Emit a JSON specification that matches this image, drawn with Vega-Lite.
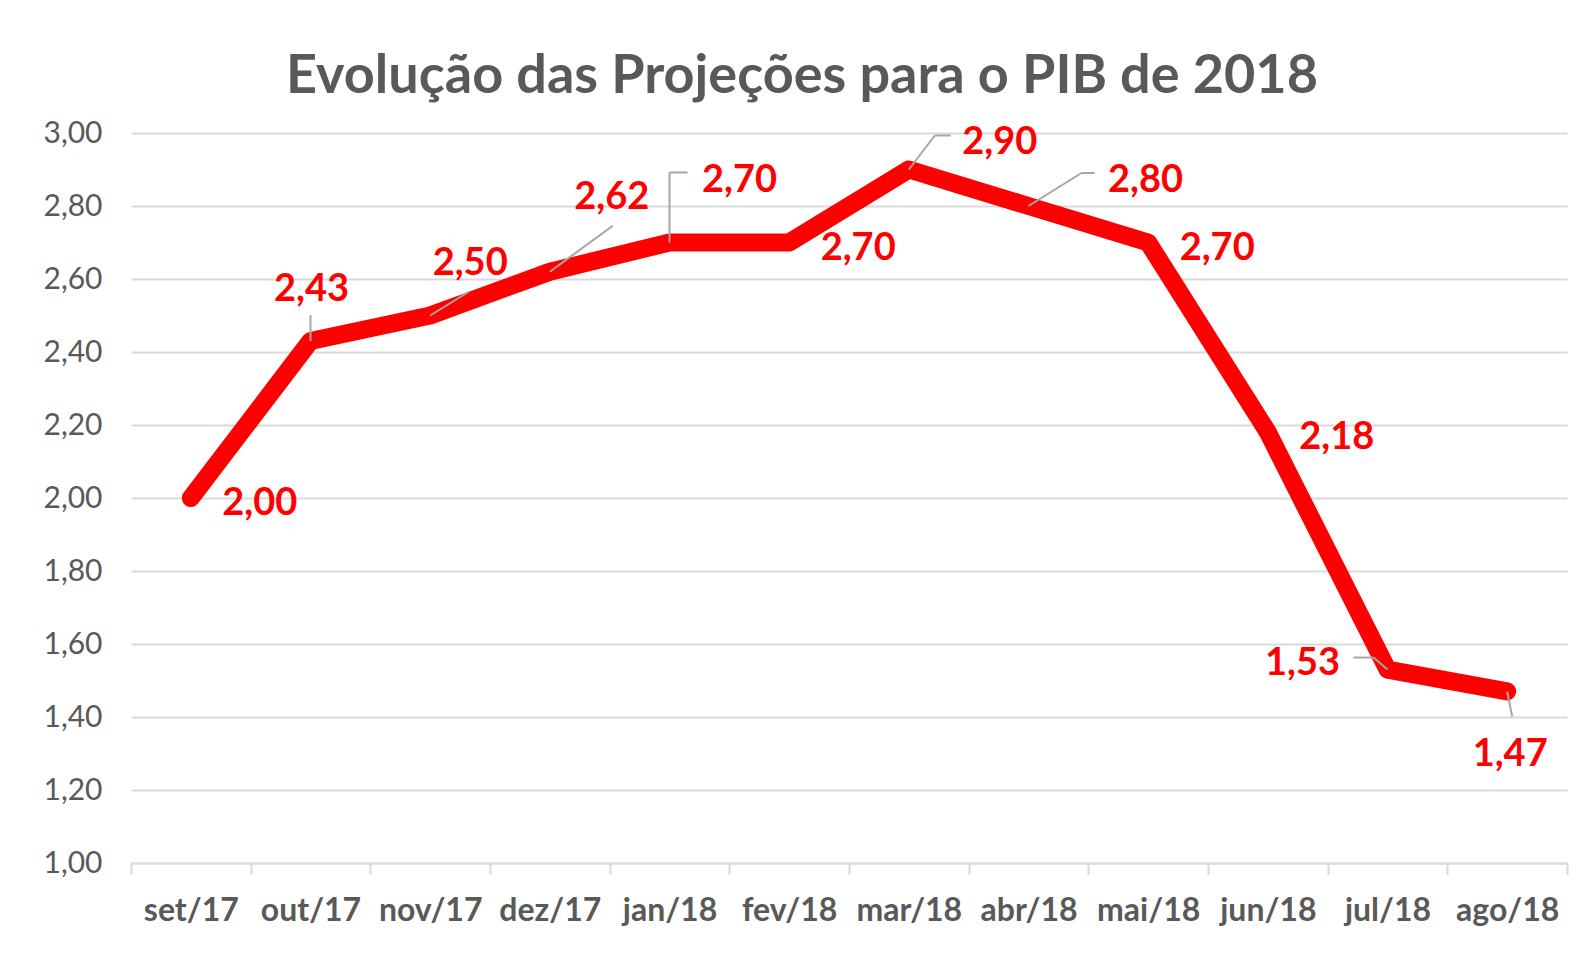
{
  "$schema": "https://vega.github.io/schema/vega-lite/v6.json",
  "width": 1436,
  "height": 730,
  "autosize": {"type": "none"},
  "padding": {"left": 131, "top": 133, "right": 9, "bottom": 91},
  "background": "white",
  "config": {"font": "Lato", "view": {"stroke": null}},
  "title": {
    "text": "Evolução das Projeções para o PIB de 2018",
    "font": "Lato",
    "fontSize": 54,
    "fontWeight": "bold",
    "color": "#595959",
    "anchor": "middle",
    "dx": -47,
    "dy": 69,
    "offset": 40,
    "baseline": "alphabetic"
  },
  "data": {
    "values": [
      {"mes": "set/17", "pib": 2.00, "rotulo": "2,00"},
      {"mes": "out/17", "pib": 2.43, "rotulo": "2,43"},
      {"mes": "nov/17", "pib": 2.50, "rotulo": "2,50"},
      {"mes": "dez/17", "pib": 2.62, "rotulo": "2,62"},
      {"mes": "jan/18", "pib": 2.70, "rotulo": "2,70"},
      {"mes": "fev/18", "pib": 2.70, "rotulo": "2,70"},
      {"mes": "mar/18", "pib": 2.90, "rotulo": "2,90"},
      {"mes": "abr/18", "pib": 2.80, "rotulo": "2,80"},
      {"mes": "mai/18", "pib": 2.70, "rotulo": "2,70"},
      {"mes": "jun/18", "pib": 2.18, "rotulo": "2,18"},
      {"mes": "jul/18", "pib": 1.53, "rotulo": "1,53"},
      {"mes": "ago/18", "pib": 1.47, "rotulo": "1,47"}
    ]
  },
  "encoding": {
    "x": {
      "field": "mes", "type": "nominal", "sort": null, "title": null,
      "scale": {"type": "band", "paddingInner": 0, "paddingOuter": 0},
      "axis": {
        "labelAngle": 0, "labelFont": "Lato", "labelFontSize": 32, "labelFontWeight": "bold",
        "labelColor": "#595959", "labelPadding": 21, "tickBand": "extent",
        "tickColor": "#d9d9d9", "tickWidth": 2, "tickSize": 11,
        "domainColor": "#d9d9d9", "domainWidth": 2, "grid": false
      }
    },
    "y": {
      "field": "pib", "type": "quantitative", "title": null,
      "scale": {"domain": [1, 3], "nice": false, "zero": false},
      "axis": {
        "values": [1, 1.2, 1.4, 1.6, 1.8, 2, 2.2, 2.4, 2.6, 2.8, 3],
        "labelExpr": "replace(format(datum.value, '.2f'), '.', ',')",
        "labelFont": "Lato", "labelFontSize": 30, "labelColor": "#595959",
        "labelPadding": 29, "ticks": false, "domain": false,
        "grid": true, "gridColor": "#d9d9d9", "gridWidth": 2
      }
    }
  },
  "layer": [
    {"mark": {"type": "line", "color": "#ff0000", "strokeWidth": 18, "strokeCap": "round", "strokeJoin": "round"}},
    {"transform": [{"filter": "datum.mes == 'out/17'"}],
     "mark": {"type": "rule", "color": "#a6a6a6", "strokeWidth": 2, "y2Offset": -26},
     "encoding": {"x2": {"field": "mes", "bandPosition": 0.5}, "y2": {"field": "pib"}}},
    {"transform": [{"filter": "datum.mes == 'nov/17'"}],
     "mark": {"type": "rule", "color": "#a6a6a6", "strokeWidth": 2, "x2Offset": 39, "y2Offset": -24},
     "encoding": {"x2": {"field": "mes", "bandPosition": 0.5}, "y2": {"field": "pib"}}},
    {"transform": [{"filter": "datum.mes == 'dez/17'"}],
     "mark": {"type": "rule", "color": "#a6a6a6", "strokeWidth": 2, "x2Offset": 63, "y2Offset": -46},
     "encoding": {"x2": {"field": "mes", "bandPosition": 0.5}, "y2": {"field": "pib"}}},
    {"transform": [{"filter": "datum.mes == 'jan/18'"}],
     "mark": {"type": "rule", "color": "#a6a6a6", "strokeWidth": 2, "y2Offset": -70},
     "encoding": {"x2": {"field": "mes", "bandPosition": 0.5}, "y2": {"field": "pib"}}},
    {"transform": [{"filter": "datum.mes == 'jan/18'"}],
     "mark": {"type": "rule", "color": "#a6a6a6", "strokeWidth": 2, "yOffset": -70, "x2Offset": 18, "y2Offset": -70},
     "encoding": {"x2": {"field": "mes", "bandPosition": 0.5}, "y2": {"field": "pib"}}},
    {"transform": [{"filter": "datum.mes == 'mar/18'"}],
     "mark": {"type": "rule", "color": "#a6a6a6", "strokeWidth": 2, "x2Offset": 26, "y2Offset": -34},
     "encoding": {"x2": {"field": "mes", "bandPosition": 0.5}, "y2": {"field": "pib"}}},
    {"transform": [{"filter": "datum.mes == 'mar/18'"}],
     "mark": {"type": "rule", "color": "#a6a6a6", "strokeWidth": 2, "xOffset": 26, "yOffset": -34, "x2Offset": 42, "y2Offset": -34},
     "encoding": {"x2": {"field": "mes", "bandPosition": 0.5}, "y2": {"field": "pib"}}},
    {"transform": [{"filter": "datum.mes == 'abr/18'"}],
     "mark": {"type": "rule", "color": "#a6a6a6", "strokeWidth": 2, "x2Offset": 53, "y2Offset": -33},
     "encoding": {"x2": {"field": "mes", "bandPosition": 0.5}, "y2": {"field": "pib"}}},
    {"transform": [{"filter": "datum.mes == 'abr/18'"}],
     "mark": {"type": "rule", "color": "#a6a6a6", "strokeWidth": 2, "xOffset": 53, "yOffset": -33, "x2Offset": 66, "y2Offset": -33},
     "encoding": {"x2": {"field": "mes", "bandPosition": 0.5}, "y2": {"field": "pib"}}},
    {"transform": [{"filter": "datum.mes == 'jul/18'"}],
     "mark": {"type": "rule", "color": "#a6a6a6", "strokeWidth": 2, "x2Offset": -14, "y2Offset": -12},
     "encoding": {"x2": {"field": "mes", "bandPosition": 0.5}, "y2": {"field": "pib"}}},
    {"transform": [{"filter": "datum.mes == 'jul/18'"}],
     "mark": {"type": "rule", "color": "#a6a6a6", "strokeWidth": 2, "xOffset": -14, "yOffset": -12, "x2Offset": -34, "y2Offset": -12},
     "encoding": {"x2": {"field": "mes", "bandPosition": 0.5}, "y2": {"field": "pib"}}},
    {"transform": [{"filter": "datum.mes == 'ago/18'"}],
     "mark": {"type": "rule", "color": "#a6a6a6", "strokeWidth": 2, "x2Offset": 5, "y2Offset": 25},
     "encoding": {"x2": {"field": "mes", "bandPosition": 0.5}, "y2": {"field": "pib"}}},
    {"transform": [{"filter": "indexof(['set/17','fev/18','mai/18','jun/18'], datum.mes) >= 0"}],
     "mark": {"type": "text", "font": "Lato", "fontSize": 38, "fontWeight": "bold", "color": "#ff0000", "dx": 69, "dy": 6},
     "encoding": {"text": {"field": "rotulo"}}},
    {"transform": [{"filter": "datum.mes == 'out/17'"}],
     "mark": {"type": "text", "font": "Lato", "fontSize": 38, "fontWeight": "bold", "color": "#ff0000", "dx": 1, "dy": -51},
     "encoding": {"text": {"field": "rotulo"}}},
    {"transform": [{"filter": "datum.mes == 'nov/17'"}],
     "mark": {"type": "text", "font": "Lato", "fontSize": 38, "fontWeight": "bold", "color": "#ff0000", "dx": 40, "dy": -52},
     "encoding": {"text": {"field": "rotulo"}}},
    {"transform": [{"filter": "datum.mes == 'dez/17'"}],
     "mark": {"type": "text", "font": "Lato", "fontSize": 38, "fontWeight": "bold", "color": "#ff0000", "dx": 62, "dy": -74},
     "encoding": {"text": {"field": "rotulo"}}},
    {"transform": [{"filter": "datum.mes == 'jan/18'"}],
     "mark": {"type": "text", "font": "Lato", "fontSize": 38, "fontWeight": "bold", "color": "#ff0000", "dx": 70, "dy": -62},
     "encoding": {"text": {"field": "rotulo"}}},
    {"transform": [{"filter": "datum.mes == 'mar/18'"}],
     "mark": {"type": "text", "font": "Lato", "fontSize": 38, "fontWeight": "bold", "color": "#ff0000", "dx": 91, "dy": -27},
     "encoding": {"text": {"field": "rotulo"}}},
    {"transform": [{"filter": "datum.mes == 'abr/18'"}],
     "mark": {"type": "text", "font": "Lato", "fontSize": 38, "fontWeight": "bold", "color": "#ff0000", "dx": 117, "dy": -25},
     "encoding": {"text": {"field": "rotulo"}}},
    {"transform": [{"filter": "datum.mes == 'jul/18'"}],
     "mark": {"type": "text", "font": "Lato", "fontSize": 38, "fontWeight": "bold", "color": "#ff0000", "dx": -85, "dy": -6},
     "encoding": {"text": {"field": "rotulo"}}},
    {"transform": [{"filter": "datum.mes == 'ago/18'"}],
     "mark": {"type": "text", "font": "Lato", "fontSize": 38, "fontWeight": "bold", "color": "#ff0000", "dx": 3, "dy": 64},
     "encoding": {"text": {"field": "rotulo"}}}
  ]
}
